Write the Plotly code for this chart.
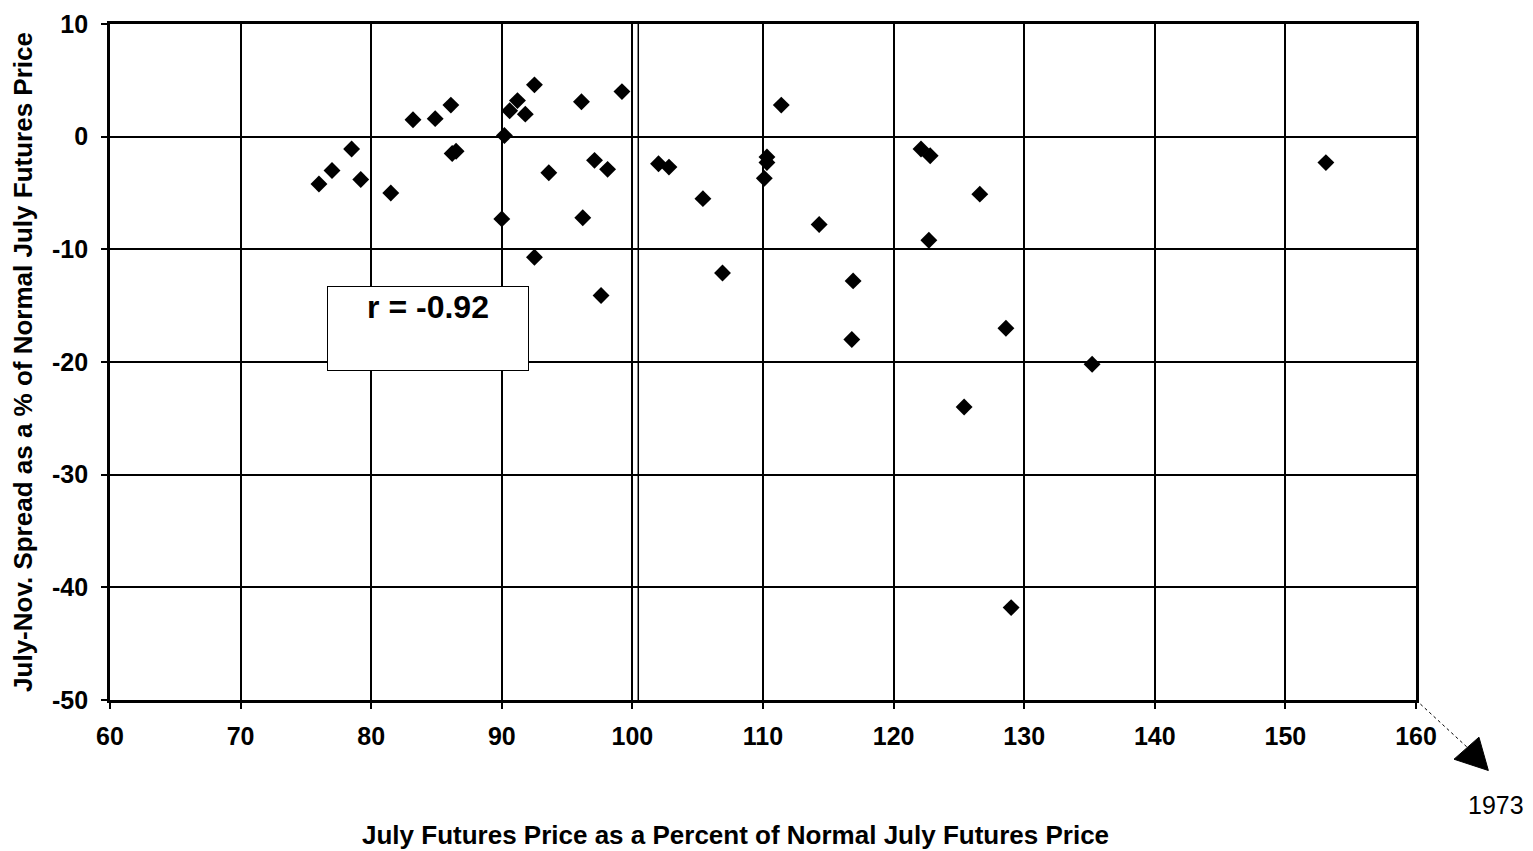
import plotly.graph_objects as go

# July futures price as % of normal (x) and July-Nov spread as % of normal July price (y)
price_pct = [76.0, 77.0, 78.5, 79.2, 81.5, 83.2, 84.9, 86.1, 86.2, 86.5,
             90.0, 90.2, 90.6, 91.2, 91.8, 92.5, 92.5, 93.6, 96.1, 97.1,
             98.1, 96.2, 99.2, 97.6, 111.4, 102.0, 102.8, 105.4, 110.3, 110.3,
             110.1, 114.3, 106.9, 116.9, 116.8, 122.1, 122.8, 126.6, 122.7, 128.6,
             153.1, 135.2, 125.4, 129.0]
spread_pct = [-4.2, -3.0, -1.1, -3.8, -5.0, 1.5, 1.6, 2.8, -1.5, -1.3,
              -7.3, 0.1, 2.3, 3.2, 2.0, 4.6, -10.7, -3.2, 3.1, -2.1,
              -2.9, -7.2, 4.0, -14.1, 2.8, -2.4, -2.7, -5.5, -1.8, -2.3,
              -3.7, -7.8, -12.1, -12.8, -18.0, -1.1, -1.7, -5.1, -9.2, -17.0,
              -2.3, -20.2, -24.0, -41.8]

x_ticks = [60, 70, 80, 90, 100, 110, 120, 130, 140, 150, 160]
y_ticks = [10, 0, -10, -20, -30, -40, -50]
r_label = "r = -0.92"
outlier_label = "1973"
x_title = "July Futures Price as a Percent of Normal July Futures Price"
y_title = "July-Nov. Spread as a % of Normal July Futures Price"

FONT = "Liberation Sans, Arial, sans-serif"

fig = go.Figure()
fig.add_trace(go.Scatter(
    x=price_pct, y=spread_pct, mode="markers",
    marker=dict(symbol="diamond", size=13, color="black"),
    showlegend=False, cliponaxis=False,
))

axis_common = dict(
    showgrid=True, gridcolor="black", gridwidth=1.6,
    showline=True, linecolor="black", linewidth=2.8, mirror=True,
    ticks="outside", ticklen=6, tickcolor="black", tickwidth=1.5,
    zeroline=False, automargin=False, ticklabeloverflow="allow",
    tickfont=dict(family=FONT, size=25, color="black", weight="bold"),
)

fig.update_layout(
    width=1517, height=843,
    paper_bgcolor="white", plot_bgcolor="white",
    margin=dict(l=102, r=109, t=16, b=151),
    font=dict(family=FONT, color="black"),
    xaxis=dict(
        range=[60, 160], tickvals=x_ticks, ticktext=[str(v) for v in x_ticks],
        ticklabelstandoff=6,
        **axis_common,
    ),
    yaxis=dict(
        range=[-50, 10], tickvals=y_ticks, ticktext=[str(v) for v in y_ticks],
        ticklabelstandoff=8,
        title=dict(text=y_title,
                   font=dict(family=FONT, size=26, color="black", weight="bold"),
                   standoff=16),
        **axis_common,
    ),
)

# x-axis title (slightly left of the plot centre, as in the original)
fig.add_annotation(
    x=0.4793, y=-0.2, xref="paper", yref="paper", xanchor="center", yanchor="middle",
    text="<b>" + x_title + "</b>", showarrow=False,
    font=dict(family=FONT, size=26, color="black"),
)

# extra vertical rule near 100
fig.add_shape(type="line", xref="x", yref="paper", x0=100.45, x1=100.45, y0=0, y1=1,
              line=dict(color="black", width=1.5))

# r box
fig.add_annotation(
    x=0.166, y=0.487, xref="paper", yref="paper", xanchor="left", yanchor="bottom",
    text="<b>" + r_label + "</b>", showarrow=False,
    font=dict(family=FONT, size=32, color="black"),
    bordercolor="black", borderwidth=1, bgcolor="white",
    width=196, height=79, align="center", valign="top", borderpad=2,
)

# dotted pointer to 1973 (off-scale)
fig.add_shape(type="line", xref="paper", yref="paper",
              x0=1.0, y0=0.0, x1=1.0398, y1=-0.071,
              line=dict(color="black", width=1, dash="dot"))
fig.add_shape(type="path", xref="paper", yref="paper",
              path="M 1.0482 -0.0550 L 1.0291 -0.0876 L 1.0554 -0.1043 Z",
              fillcolor="black", line=dict(color="black", width=1))
fig.add_annotation(
    x=1.0612, y=-0.155, xref="paper", yref="paper", xanchor="center", yanchor="middle",
    text=outlier_label, showarrow=False,
    font=dict(family=FONT, size=25, color="black"),
)

fig.write_html("out.html")
